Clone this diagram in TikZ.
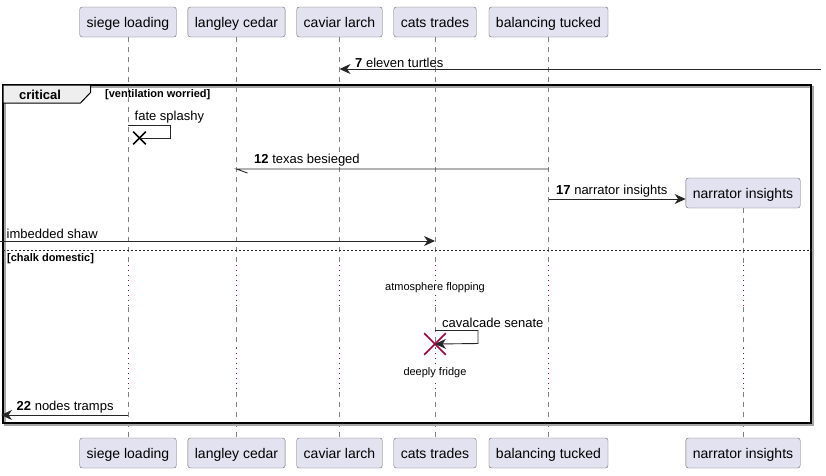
\documentclass[tikz,border=0pt]{standalone}
\usepackage{fontspec}
\setmainfont{Liberation Sans}
\usepackage{xcolor}
\usetikzlibrary{arrows.meta,shapes.misc,positioning}

\definecolor{partfill}{HTML}{E2E2F0}
\definecolor{tabfill}{HTML}{EEEEEE}
\definecolor{delayred}{HTML}{A80036}

\tikzset{
  participant/.style={draw=black!60,fill=partfill,rounded corners=2.5pt,minimum height=30pt,inner xsep=7pt,text height=10pt,text depth=0pt,font=\fontsize{14}{16}\selectfont},
  lifeline/.style={draw=black!50,line width=0.6pt,dash pattern=on 5pt off 5pt},
  delayline/.style={draw=delayred,line width=1pt,dash pattern=on 1.2pt off 3.8pt},
  msg/.style={draw=black!85,line width=0.9pt,-{Stealth[length=11pt,width=10pt,inset=3.5pt]}},
  msgtext/.style={anchor=west,inner sep=0pt,yshift=-1.5pt,font=\fontsize{13}{15}\selectfont},
  smalltext/.style={inner sep=0pt,yshift=-1pt,font=\fontsize{11}{13}\selectfont},
  killmark/.style={cross out,draw,line width=1.6pt,inner sep=0pt},
}

\begin{document}
\begin{tikzpicture}[x=1pt,y=-1pt]
\useasboundingbox (0,0) rectangle (826,475);
% Participants, top and bottom
\foreach \name/\x/\txt in {siege/128/siege loading,langley/236.5/langley cedar,caviar/339.5/caviar larch,cats/435/cats trades,balancing/548.5/balancing tucked}{
  \node[participant] (\name-top) at (\x,22) {\txt};
  \node[participant] (\name-bot) at (\x,453) {\txt};
}
\node[participant] (narr-top) at (743,193) {narrator insights};
\node[participant] (narr-bot) at (743,453) {narrator insights};

% Lifelines with the two delays
\coordinate (d1a) at (0,265);
\coordinate (d1b) at (0,307);
\coordinate (d2a) at (0,348);
\coordinate (d2b) at (0,392);
\foreach \name in {siege,langley,caviar,cats,balancing,narr}{
  \draw[lifeline] (\name-top.south) -- (\name-top |- d1a);
  \draw[delayline] (\name-top |- d1a) -- (\name-top |- d1b);
  \draw[lifeline] (\name-top |- d1b) -- (\name-top |- d2a);
  \draw[delayline] (\name-top |- d2a) -- (\name-top |- d2b);
  \draw[lifeline] (\name-top |- d2b) -- (\name-bot.north);
}

% Message 7 from outside
\coordinate (in7) at (821,69);
\draw[msg] (in7) -- (in7 -| caviar-top);
\node[msgtext] (lab7) at (355,61) {\textbf{7} eleven turtles};

% Critical frame
\draw[black!35,line width=1.5pt] (5,87) rectangle (813,425);
\draw[line width=1.5pt] (3,85) rectangle (811,423);
\draw[fill=tabfill,line width=1pt] (3,85) -- (90.5,85) -- (90.5,92.5) -- (80.5,103) -- (3,103) -- cycle;
\node[inner sep=0pt,yshift=-1pt,font=\bfseries\fontsize{13}{15}\selectfont] (crit) at (40,94) {critical};
\node[smalltext,anchor=west,font=\bfseries\fontsize{11}{13}\selectfont] (guard1) at (105,94) {[ventilation worried]};

% Self message with destroy
\node[killmark,minimum size=11pt] (kill1) at (139.5,138) {};
\coordinate (fs) at (128,125.5);
\draw[black!85,line width=0.9pt] (fs) -- ++(42.5,0) -- ++(0,12.5) -- (kill1.center);
\node[msgtext] (labfs) at (134.5,116) {fate splashy};

% Message 12 with half arrow
\coordinate (y12) at (0,169);
\draw[black!85,line width=0.9pt] (balancing-top |- y12) -- (langley-top |- y12) -- ++(11,4);
\node[msgtext] (lab12) at (254,159) {\textbf{12} texas besieged};

% Message 17 creates narrator insights
\coordinate (y17) at (0,199);
\draw[msg] (balancing-top |- y17) -- (narr-top.west |- y17);
\node[msgtext] (lab17) at (556,190) {\textbf{17} narrator insights};

% Incoming message
\coordinate (inshaw) at (0,241);
\draw[msg] (inshaw) -- (inshaw -| cats-top);
\node[msgtext] (labshaw) at (6.5,232) {imbedded shaw};

% Else part
\draw[black!85,dash pattern=on 2pt off 2pt] (3,250) -- (811,250);
\node[smalltext,anchor=west,font=\bfseries\fontsize{11}{13}\selectfont] (guard2) at (7,258) {[chalk domestic]};
\node[smalltext,fill=white,inner sep=1pt] (delay1) at (435,287) {atmosphere flopping};

% Self message on cats trades, destroyed
\node[killmark,draw=delayred,minimum size=20pt] (kill2) at (435,344) {};
\coordinate (cs) at (435,330.5);
\draw[msg] (cs) -- ++(43,0) -- ++(0,13) -- (kill2.center);
\node[msgtext] (labcs) at (442,321) {cavalcade senate};
\node[smalltext,fill=white,inner sep=1pt] (delay2) at (435,372) {deeply fridge};

% Outgoing message 22
\coordinate (out22) at (1,415);
\draw[msg] (siege-top |- out22) -- (out22);
\node[msgtext] (lab22) at (16.5,406) {\textbf{22} nodes tramps};
\end{tikzpicture}
\end{document}
